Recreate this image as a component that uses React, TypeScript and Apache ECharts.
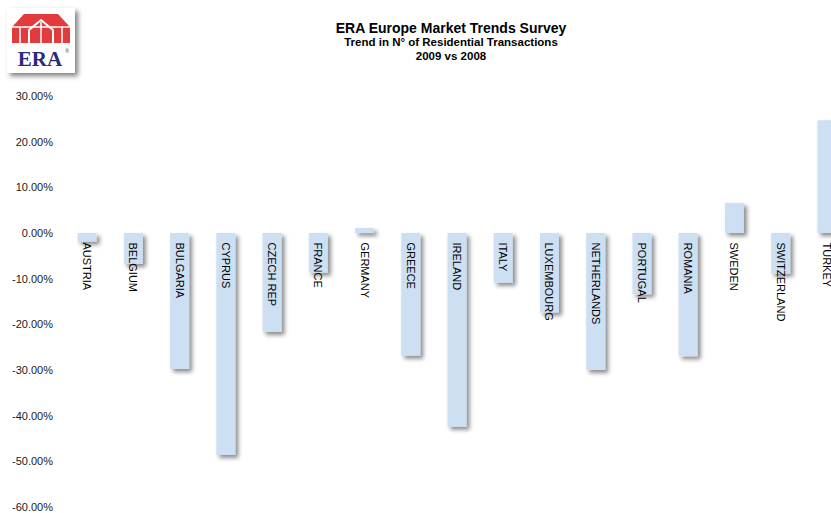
import React, { useEffect, useRef } from "react";
import * as echarts from "echarts";

const countries = [
  "AUSTRIA", "BELGIUM", "BULGARIA", "CYPRUS", "CZECH REP", "FRANCE", "GERMANY",
  "GREECE", "IRELAND", "ITALY", "LUXEMBOURG", "NETHERLANDS", "PORTUGAL",
  "ROMANIA", "SWEDEN", "SWITZERLAND", "TURKEY",
];
const trend = [
  -1.9, -6.8, -29.8, -48.6, -21.7, -8.7, 1.1,
  -26.9, -42.4, -10.9, -17.4, -30.0, -13.4,
  -27.0, 6.6, -8.9, 24.7,
];
const titleText = "ERA Europe Market Trends Survey";
const subtitleLines = ["Trend in N° of Residential Transactions", "2009 vs 2008"];

const FONT = "'Liberation Sans', Arial, sans-serif";

export default function App() {
  const ref = useRef<HTMLDivElement>(null);
  useEffect(() => {
    if (!ref.current) return;
    const chart = echarts.init(ref.current, null, { renderer: "svg" });
    chart.setOption({
      animation: false,
      backgroundColor: "#ffffff",
      grid: { left: 64, right: -19, top: 96, bottom: 6, outerBoundsMode: "none" },
      xAxis: {
        type: "category",
        data: countries,
        axisLine: { show: false },
        axisTick: { show: false },
        axisLabel: { show: false },
        splitLine: { show: false },
      },
      yAxis: {
        type: "value",
        min: -60,
        max: 30,
        interval: 10,
        axisLine: { show: false },
        axisTick: { show: false },
        splitLine: { show: false },
        axisLabel: {
          margin: 11,
          color: "#1a1a1a",
          fontSize: 11,
          fontFamily: FONT,
          formatter: (v: number) => v.toFixed(2) + "%",
        },
      },
      series: [
        {
          type: "bar",
          data: trend,
          barWidth: 19,
          itemStyle: {
            color: "#cddff2",
            shadowColor: "rgba(0,0,0,0.45)",
            shadowBlur: 4,
            shadowOffsetX: 3,
            shadowOffsetY: 3,
          },
        },
        {
          type: "scatter",
          data: countries.map(() => 0),
          symbol: "circle",
          symbolSize: 1,
          itemStyle: { color: "rgba(255,255,255,0)" },
          silent: true,
          z: 5,
          label: {
            show: true,
            formatter: "{b}",
            position: "bottom",
            distance: 9,
            rotate: -90,
            align: "left",
            verticalAlign: "middle",
            color: "#000",
            opacity: 1,
            textBorderWidth: 0,
            fontSize: 11,
            fontFamily: FONT,
          },
        },
      ],
      graphic: [
        {
          type: "text",
          x: 451,
          y: 28,
          style: {
            text: titleText,
            fontSize: 14,
            fontWeight: "bold",
            fontFamily: FONT,
            fill: "#000",
            textAlign: "center",
            textVerticalAlign: "middle",
          },
        },
        {
          type: "text",
          x: 451,
          y: 42,
          style: {
            text: subtitleLines[0],
            fontSize: 11.5,
            fontWeight: "bold",
            fontFamily: FONT,
            fill: "#000",
            textAlign: "center",
            textVerticalAlign: "middle",
          },
        },
        {
          type: "text",
          x: 451,
          y: 56,
          style: {
            text: subtitleLines[1],
            fontSize: 11.5,
            fontWeight: "bold",
            fontFamily: FONT,
            fill: "#000",
            textAlign: "center",
            textVerticalAlign: "middle",
          },
        },
        {
          type: "group",
          children: [
            {
              type: "rect",
              shape: { x: 7, y: 8, width: 68, height: 65 },
              style: {
                fill: "#fff",
                shadowColor: "rgba(0,0,0,0.5)",
                shadowBlur: 5,
                shadowOffsetX: 3,
                shadowOffsetY: 3,
              },
            },
            {
              type: "polygon",
              shape: { points: [[24, 14], [58, 14], [70, 27], [70, 43], [12, 43], [12, 27]] },
              style: { fill: "#e23b3d" },
            },
            {
              type: "polyline",
              shape: { points: [[29, 44], [29, 30], [41, 20], [53, 30], [53, 44]] },
              style: { stroke: "#fff", lineWidth: 2, fill: "none" },
            },
            {
              type: "line",
              shape: { x1: 12, y1: 27, x2: 70, y2: 27 },
              style: { stroke: "#fff", lineWidth: 1.5 },
            },
            {
              type: "line",
              shape: { x1: 41, y1: 22, x2: 41, y2: 44 },
              style: { stroke: "#fff", lineWidth: 1.5 },
            },
            {
              type: "line",
              shape: { x1: 20, y1: 27, x2: 20, y2: 44 },
              style: { stroke: "#fff", lineWidth: 1.5 },
            },
            {
              type: "line",
              shape: { x1: 62, y1: 27, x2: 62, y2: 44 },
              style: { stroke: "#fff", lineWidth: 1.5 },
            },
            {
              type: "text",
              x: 40,
              y: 59,
              style: {
                text: "ERA",
                fontSize: 21,
                fontWeight: "bold",
                fontFamily: "'Liberation Serif', 'DejaVu Serif', serif",
                fill: "#2b2a78",
                textAlign: "center",
                textVerticalAlign: "middle",
              },
            },
            {
              type: "text",
              x: 67,
              y: 51,
              style: {
                text: "®",
                fontSize: 5,
                fontFamily: FONT,
                fill: "#2b2a78",
                textAlign: "center",
                textVerticalAlign: "middle",
              },
            },
          ],
        },
      ],
    });
    return () => chart.dispose();
  }, []);
  return <div ref={ref} style={{ width: 831, height: 513, position: "absolute", left: 0, top: 0 }} />;
}
